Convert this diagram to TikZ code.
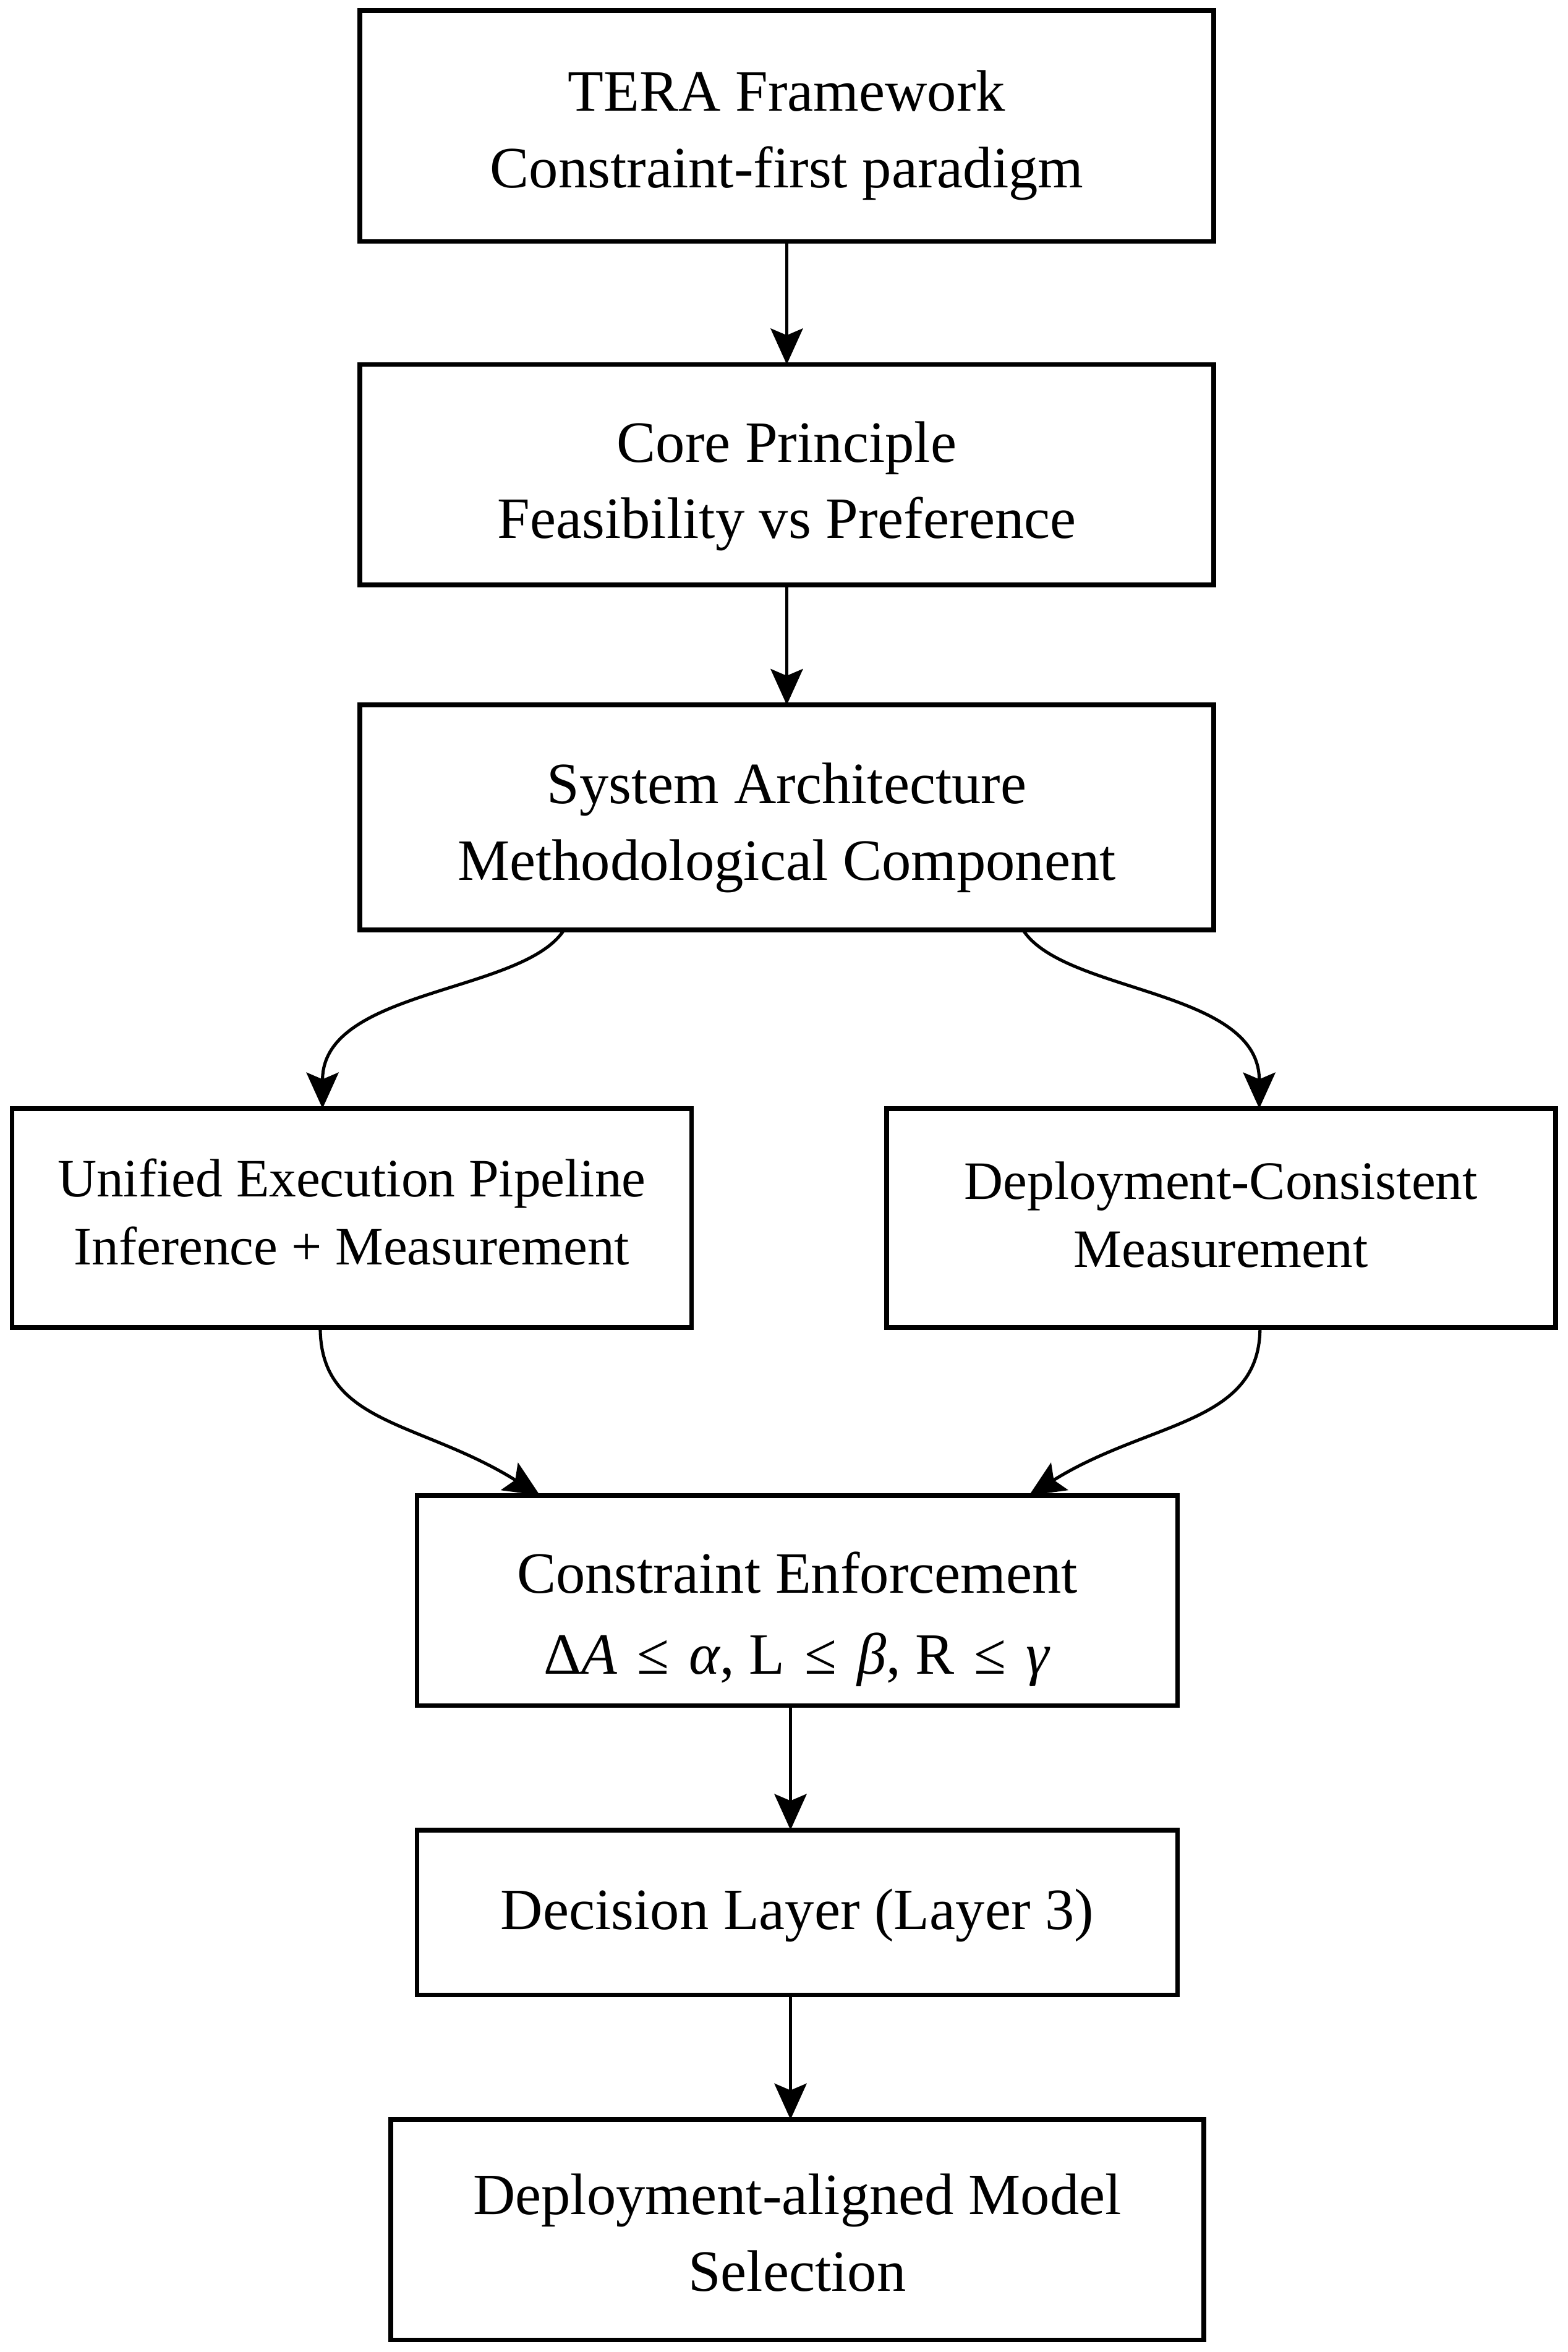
\documentclass[tikz,border=0pt]{standalone}
\usepackage{fontspec}
\setmainfont{Liberation Serif}
\usepackage{tikz}
\usetikzlibrary{arrows.meta,positioning}

\newcommand{\lesp}{\hspace{.34em}≤\hspace{.34em}}
\newcommand{\topstrut}[1]{\rule{0pt}{#1}}
\newcommand{\botstrut}{\rule[-5pt]{0pt}{5pt}}

\begin{document}
\begin{tikzpicture}[>={Stealth[length=4.8mm, width=4.3mm, inset=0.9mm]},
    box/.style={draw, rectangle, line width=1.8pt, outer sep=0pt, align=center, minimum width=11.38cm, font=\fontsize{22.2}{29}\selectfont},
    sidebox/.style={box, minimum height=2.92cm, font=\fontsize{20.5}{25.8}\selectfont},
    flow/.style={->, line width=1.2pt}]

    \fill[white] (0,0) rectangle (20.9,-31.36);
    \useasboundingbox (0,0) rectangle (20.9,-31.36);

    % === Top chain ===
    \node[box, minimum height=3.08cm] (Tera) at (10.49,-1.68) {\topstrut{22.6pt}TERA Framework\\Constraint-first paradigm\botstrut};
    \node[box, minimum height=2.94cm, below=1.64cm of Tera] (Core) {\topstrut{24.4pt}Core Principle\\Feasibility vs Preference\botstrut};
    \node[box, minimum height=3cm, below=1.6cm of Core] (SysArch) {\topstrut{23.4pt}System Architecture\\Methodological Component\botstrut};
    \draw[flow] (Tera) -- (Core);
    \draw[flow] (Core) -- (SysArch);

    % === Two branches ===
    \node[sidebox, minimum width=9.06cm, below=2.38cm of SysArch, xshift=-5.8cm] (Pipeline) {\topstrut{14.2pt}Unified Execution Pipeline\\Inference + Measurement\botstrut};
    \node[sidebox, minimum width=8.92cm, below=2.38cm of SysArch, xshift=5.79cm] (Measure) {\topstrut{16.4pt}Deployment-Consistent\\Measurement\botstrut};
    \draw[flow] ([xshift=-2.97cm]SysArch.south) .. controls +(-0.55,-0.85) and +(0,1.6) .. ([xshift=-0.39cm]Pipeline.north);
    \draw[flow] ([xshift=3.15cm]SysArch.south) .. controls +(0.55,-0.85) and +(0,1.6) .. ([xshift=0.51cm]Measure.north);

    % === Merge and decision ===
    \node[box, minimum width=10.14cm, minimum height=2.8cm, below=2.24cm of Pipeline, xshift=5.94cm] (Enforce) {\topstrut{30pt}Constraint Enforcement\\[1.9pt]Δ\textit{A}\lesp\textit{α}, L\lesp\textit{β}, R\lesp\textit{γ}\botstrut};
    \draw[flow] ([xshift=-0.42cm]Pipeline.south) .. controls +(0,-1.3) and +(-1.6,1.0) .. ([xshift=-3.43cm]Enforce.north);
    \draw[flow] ([xshift=0.52cm]Measure.south) .. controls +(0,-1.3) and +(1.6,1.0) .. ([xshift=3.09cm]Enforce.north);

    \node[box, minimum width=10.14cm, minimum height=2.2cm, below=1.66cm of Enforce] (Decision) {\topstrut{17.6pt}Decision Layer (Layer 3)\botstrut};
    \node[box, minimum width=10.84cm, minimum height=2.94cm, below=1.66cm of Decision] (Select) {\topstrut{22.4pt}Deployment-aligned Model\\Selection\botstrut};
    \draw[flow] ([xshift=-0.09cm]Enforce.south) -- ([xshift=-0.09cm]Decision.north);
    \draw[flow] ([xshift=-0.09cm]Decision.south) -- ([xshift=-0.09cm]Select.north);

\end{tikzpicture}
\end{document}
